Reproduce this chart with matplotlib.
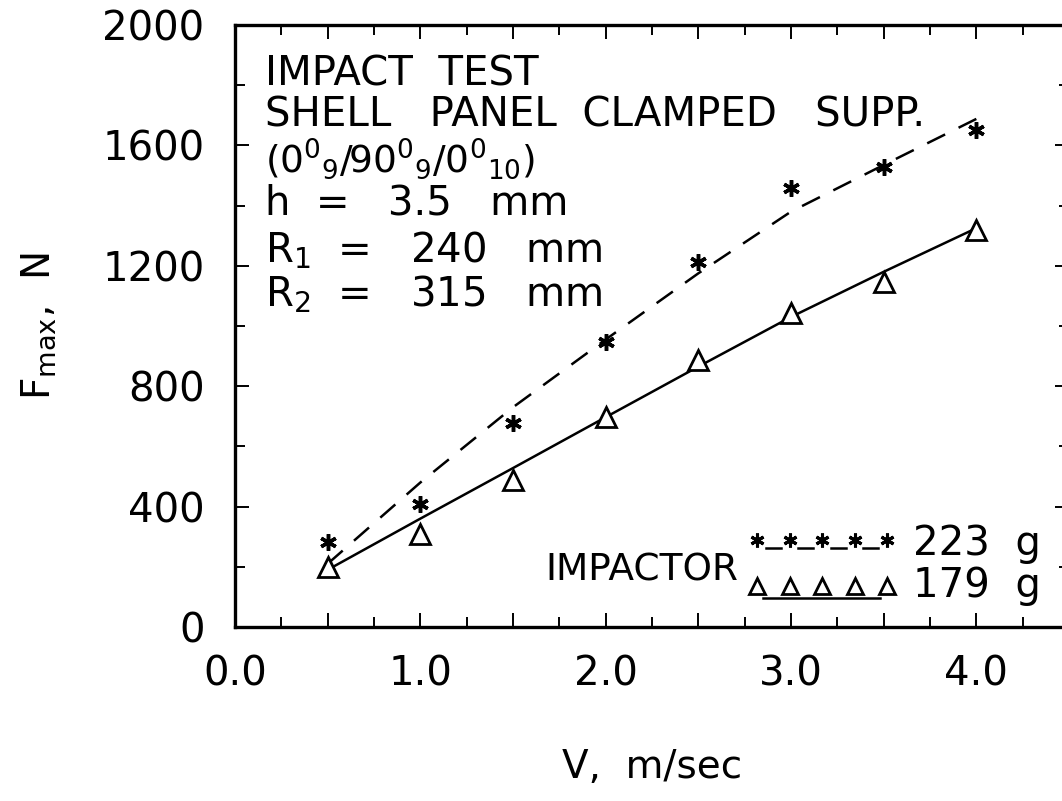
import matplotlib
matplotlib.use("Agg")
from matplotlib import pyplot as plt
from matplotlib.ticker import MultipleLocator

plt.rcParams['font.family'] = ['DejaVu Sans']
plt.rcParams['mathtext.default'] = 'regular'

# measured points
v = [0.5, 1.0, 1.5, 2.0, 2.5, 3.0, 3.5, 4.0]
f_223 = [282, 410, 678, 947, 1213, 1458, 1528, 1651]
f_179 = [199, 309, 488, 698, 887, 1043, 1146, 1319]

# fitted curves
fit_223 = [210, 480, 730, 955, 1175, 1380, 1535, 1688]
fit_179 = [190, 360, 528, 697, 865, 1030, 1180, 1325]

fig = plt.figure(figsize=(10.62, 8.01), dpi=100)
ax = fig.add_axes([235 / 1062, 174 / 801, 834 / 1062, 602 / 801])

ax.plot(v, fit_223, color='black', lw=1.8, dashes=(8, 6))
ax.plot(v, fit_179, color='black', lw=1.8)
ax.plot(v, f_223, ls='none', marker=(6, 2, 0), ms=12, mew=2.5, color='black')
ax.plot(v, f_179, ls='none', marker='^', ms=14, mew=2.0, mfc='white', mec='black')

ax.set_xlim(0, 4.5)
ax.set_ylim(0, 2000)
ax.xaxis.set_major_locator(MultipleLocator(0.5))
ax.xaxis.set_minor_locator(MultipleLocator(0.25))
ax.yaxis.set_major_locator(MultipleLocator(400))
ax.yaxis.set_minor_locator(MultipleLocator(200))
ax.set_xticklabels([('%.1f' % t) if abs(t - round(t)) < 1e-6 else '' for t in ax.get_xticks()])
ax.set_yticks([0, 400, 800, 1200, 1600, 2000])
ax.set_yticklabels(['0', '400', '800', '1200', '1600', '2000'])
ax.tick_params(which='both', direction='in', top=True, right=True, width=1.4, labelsize=29)
ax.tick_params(which='major', length=10)
ax.tick_params(which='minor', length=7)
ax.tick_params(axis='x', pad=20)
ax.tick_params(axis='y', pad=22)
for s in ax.spines.values():
    s.set_linewidth(2.4)

ax.set_xlabel('V,  m/sec', fontsize=28, labelpad=38)
ax.set_ylabel('F$_{max}$,  N', fontsize=28, labelpad=32)

# header text block
lines = ['IMPACT  TEST',
         'SHELL   PANEL  CLAMPED   SUPP.',
         '$(0^0{}_9/90^0{}_9/0^0{}_{10})$',
         'h  =   3.5   mm',
         '$R_1$  =   240   mm',
         '$R_2$  =   315   mm']
ys = [0.900, 0.832, 0.755, 0.686, 0.606, 0.532]
sizes = [29, 29, 27, 29, 29, 29]
for t, y, fs in zip(lines, ys, sizes):
    ax.text(0.036, y, t, transform=ax.transAxes, fontsize=fs, va='baseline', ha='left')

# legend, drawn by hand
lx = [0.626, 0.665, 0.704, 0.743, 0.782]
ax.plot(lx, [0.145] * 5, ls='none', marker=(6, 2, 0), ms=10, mew=2.2, color='black',
        transform=ax.transAxes)
for a, b in zip(lx[:-1], lx[1:]):
    m = (a + b) / 2
    ax.plot([m - 0.009, m + 0.009], [0.131, 0.131], color='black', lw=1.8,
            transform=ax.transAxes)
ax.plot(lx, [0.068] * 5, ls='none', marker='^', ms=12, mew=2, mfc='white', mec='black',
        transform=ax.transAxes)
ax.plot([0.633, 0.773], [0.048, 0.048], color='black', lw=1.8, transform=ax.transAxes)
ax.text(0.604, 0.078, 'IMPACTOR', transform=ax.transAxes, fontsize=27,
        ha='right', va='baseline')
ax.text(0.813, 0.120, '223  g', transform=ax.transAxes, fontsize=29, va='baseline')
ax.text(0.813, 0.050, '179  g', transform=ax.transAxes, fontsize=29, va='baseline')

fig.savefig('out.png', dpi=100)
